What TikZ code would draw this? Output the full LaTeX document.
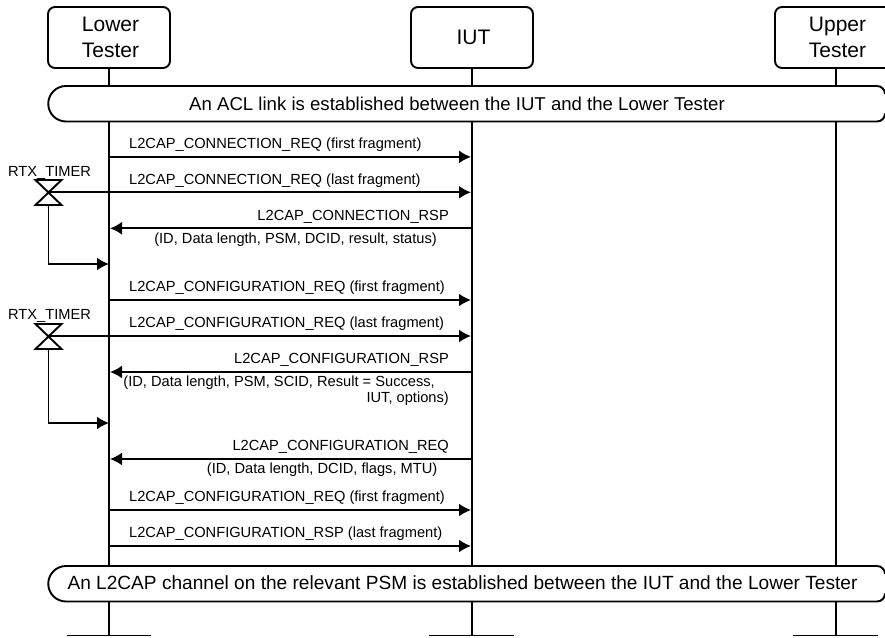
\documentclass[tikz,border=0pt]{standalone}
\usepackage{fontspec}
\setmainfont{Liberation Sans}
\usetikzlibrary{arrows.meta}
\newcommand{\nudge}{\hspace*{3pt}}
\tikzset{
  x=1pt,y=-1pt,
  ln/.style={line width=1.9pt,black},
  ent/.style={draw,line width=1.9pt,rounded corners=7pt,minimum width=122pt,minimum height=61pt,align=center,font=\fontsize{21}{26}\selectfont,inner sep=0pt,fill=white},
  msg/.style={line width=1.9pt,-{Latex[length=12pt,width=13pt,sharp]}},
  lab/.style={font=\fontsize{14.65}{16}\selectfont,inner sep=0pt},
  bandtxt/.style={font=\fontsize{18.6}{22}\selectfont,inner sep=0pt},
  bandtxtb/.style={font=\fontsize{19.1}{22}\selectfont,inner sep=0pt},
  hg/.style={draw,line width=1.9pt}
}
\begin{document}
\begin{tikzpicture}
\useasboundingbox (0,0) rectangle (885,637);
\node[ent] (lt) at (109,37.5) {\nudge Lower\\\nudge Tester};
\node[ent] (iut) at (472,37.5) {\nudge IUT};
\node[ent] (ut) at (836,37.5) {\nudge Upper\\\nudge Tester};
\coordinate (ltb) at (109,636);
\coordinate (iutb) at (472,636);
\coordinate (utb) at (836,636);
\draw[ln] (lt) -- (ltb);
\draw[ln] (iut) -- (iutb);
\draw[ln] (ut) -- (utb);
\coordinate (b1) at (66.5,635.5);\coordinate (b2) at (151,635.5);
\coordinate (b3) at (429,635.5);\coordinate (b4) at (514,635.5);
\coordinate (b5) at (793,635.5);\coordinate (b6) at (878,635.5);
\draw[ln] (b1)--(b2);\draw[ln] (b3)--(b4);\draw[ln] (b5)--(b6);
% bands
\draw[ln,fill=white] (877,86) -- (66,86) arc[start angle=270,end angle=90,radius=17.75] -- (877,121.5) arc[start angle=90,end angle=0,radius=8] (877,86) arc[start angle=270,end angle=360,radius=8];
\node[bandtxt] (t1) at (457,104) {An ACL link is established between the IUT and the Lower Tester};
\draw[ln,fill=white] (877,566) -- (66,566) arc[start angle=270,end angle=90,radius=17.75] -- (877,601.5) arc[start angle=90,end angle=0,radius=8] (877,566) arc[start angle=270,end angle=360,radius=8];
\node[bandtxtb] (t2) at (462.5,583) {An L2CAP channel on the relevant PSM is established between the IUT and the Lower Tester};
% messages
\coordinate (a1) at (109,156.9);\coordinate (c1) at (471,156.9);
\draw[msg] (a1)--(c1);
\node[lab,anchor=west] (m1) at (129,145) {L2CAP\_CONNECTION\_REQ (first fragment)};
\coordinate (a2) at (48,192.3);\coordinate (c2) at (471,192.3);
\draw[msg] (a2)--(c2);
\node[lab,anchor=west] (m2) at (129,181) {L2CAP\_CONNECTION\_REQ (last fragment)};
\coordinate (a3) at (472,228.3);\coordinate (c3) at (110,228.3);
\draw[msg] (a3)--(c3);
\node[lab,anchor=east] (m3) at (449,217) {L2CAP\_CONNECTION\_RSP};
\node[lab,anchor=east] (m3b) at (437,240) {(ID, Data length, PSM, DCID, result, status)};
\coordinate (a4) at (109,300);\coordinate (c4) at (471,300);
\draw[msg] (a4)--(c4);
\node[lab,anchor=west] (m4) at (129,288) {L2CAP\_CONFIGURATION\_REQ (first fragment)};
\coordinate (a5) at (48,336);\coordinate (c5) at (471,336);
\draw[msg] (a5)--(c5);
\node[lab,anchor=west] (m5) at (129,324) {L2CAP\_CONFIGURATION\_REQ (last fragment)};
\coordinate (a6) at (472,372);\coordinate (c6) at (110,372);
\draw[msg] (a6)--(c6);
\node[lab,anchor=east] (m6) at (449,360) {L2CAP\_CONFIGURATION\_RSP};
\node[lab,anchor=east,align=right] (m6b) at (449,391) {(ID, Data length, PSM, SCID, Result = Success,\hspace*{14pt}\\IUT, options)};
\coordinate (a7) at (472,459);\coordinate (c7) at (110,459);
\draw[msg] (a7)--(c7);
\node[lab,anchor=east] (m7) at (449,447) {L2CAP\_CONFIGURATION\_REQ};
\node[lab,anchor=east] (m7b) at (437.5,469.5) {(ID, Data length, DCID, flags, MTU)};
\coordinate (a8) at (109,510);\coordinate (c8) at (471,510);
\draw[msg] (a8)--(c8);
\node[lab,anchor=west] (m8) at (129,498) {L2CAP\_CONFIGURATION\_REQ (first fragment)};
\coordinate (a9) at (109,546);\coordinate (c9) at (471,546);
\draw[msg] (a9)--(c9);
\node[lab,anchor=west] (m9) at (129,534) {L2CAP\_CONFIGURATION\_RSP (last fragment)};
% timers
\node[lab] (rt1) at (49.5,172.5) {RTX\_TIMER};
\node[lab] (rt2) at (49.5,315.5) {RTX\_TIMER};
\draw[hg] (35.5,180) -- (61.5,180) -- (35.5,205) -- (61.5,205) -- cycle;
\draw[hg] (35.5,324) -- (61.5,324) -- (35.5,349) -- (61.5,349) -- cycle;
\coordinate (h1) at (48.5,205);\coordinate (e1) at (109,264);
\coordinate (h2) at (48.5,349);\coordinate (e2) at (109,423);
\draw[msg] (h1) |- (e1);
\draw[msg] (h2) |- (e2);
\end{tikzpicture}
\end{document}
